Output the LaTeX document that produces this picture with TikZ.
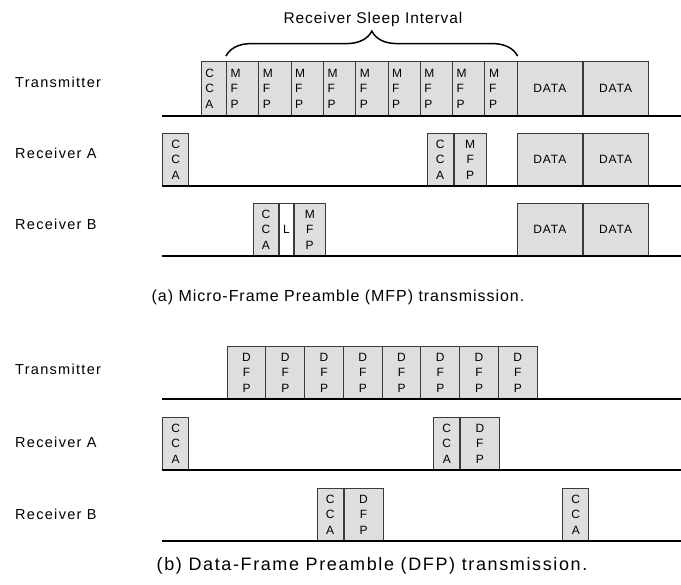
\documentclass[tikz,border=0pt]{standalone}
\usepackage{fontspec}
\setmainfont{Liberation Sans}
\newfontfamily\labelfont[LetterSpace=9]{Liberation Sans}
\newfontfamily\titlefont[LetterSpace=6]{Liberation Sans}
\newfontfamily\slotfont[LetterSpace=8]{Liberation Sans}
\usetikzlibrary{decorations.pathreplacing}

\definecolor{slotfill}{HTML}{DEDEDE}
\definecolor{slotedge}{HTML}{3A3A3A}

\tikzset{
  slot/.style={draw=slotedge, line width=0.9pt, fill=slotfill, inner sep=0pt,
    minimum height=52pt, anchor=south west, align=center,
    font=\slotfont\fontsize{12}{15.5}\selectfont},
  gapslot/.style={slot, fill=white},
  lefty/.style={align=left, text width=#1, inner xsep=4pt},
  timeline/.style={line width=2pt},
  rowlabel/.style={anchor=base west, inner sep=0pt,
    font=\labelfont\fontsize{14.5}{16}\selectfont},
  heading/.style={anchor=base, inner sep=0pt,
    font=\titlefont\fontsize{15.5}{17}\selectfont},
  capa/.style={anchor=base, inner sep=0pt,
    font=\titlefont\fontsize{16}{18}\selectfont},
  capb/.style={anchor=base, inner sep=0pt,
    font=\labelfont\fontsize{18}{20}\selectfont},
  sleepbrace/.style={decorate, decoration={brace, amplitude=25pt}, line width=1.5pt}
}

\begin{document}
\begin{tikzpicture}[x=1pt, y=-1pt]
    \useasboundingbox (0,0) rectangle (681,585);

    % (a) Micro-Frame Preamble
    \begin{scope}
        \node[rowlabel] (atx) at (15,88) {Transmitter};
        \node[rowlabel] (arxa) at (15,158.5) {Receiver A};
        \node[rowlabel] (arxb) at (15,229.5) {Receiver B};

        % transmitter: CCA, MFP train, data
        \node[slot, lefty=17pt, minimum width=25.3pt, minimum height=54pt] (atxcca) at (200.7,116) {C\\C\\A};
        \foreach \k in {1,...,9} {
            \node[slot, lefty=24pt, minimum width=32.3pt, minimum height=54pt] (atxmfp\k) at ({226+32.3*(\k-1)},116) {M\\F\\P};
        }
        \node[slot, minimum width=64.8pt, minimum height=54pt] (atxdata1) at (517,116) {DATA};
        \node[slot, minimum width=64.8pt, minimum height=54pt] (atxdata2) at (atxdata1.south east) {DATA};

        % sleep interval
        \draw[sleepbrace] ([yshift=5pt]atxmfp1.north west) -- ([yshift=5pt]atxmfp9.north east);
        \node[heading] (sleep) at (373,24) {Receiver Sleep Interval};

        % receiver A
        \node[slot, minimum width=26pt] (arxacca1) at (162.3,186) {C\\C\\A};
        \node[slot, minimum width=26pt] (arxacca2) at (426.7,186) {C\\C\\A};
        \node[slot, minimum width=32.3pt] (arxamfp) at (arxacca2.south east) {M\\F\\P};
        \node[slot, minimum width=64.8pt] (arxadata1) at (517,186) {DATA};
        \node[slot, minimum width=64.8pt] (arxadata2) at (arxadata1.south east) {DATA};

        % receiver B
        \node[slot, minimum width=25.6pt] (arxbcca) at (252.7,256) {C\\C\\A};
        \node[gapslot, minimum width=13.4pt] (arxblisten) at (arxbcca.south east) {L};
        \node[slot, minimum width=31.6pt] (arxbmfp) at (arxblisten.south east) {M\\F\\P};
        \node[slot, minimum width=64.8pt] (arxbdata1) at (517,256) {DATA};
        \node[slot, minimum width=64.8pt] (arxbdata2) at (arxbdata1.south east) {DATA};

        \foreach \y in {116,186,256} {
            \draw[timeline] (162,\y) -- (681,\y);
        }

        \node[capa] (capa) at (338,302) {(a) Micro-Frame Preamble (MFP) transmission.};
    \end{scope}

    % (b) Data-Frame Preamble
    \begin{scope}[yshift=-283pt]
        \node[rowlabel] (btx) at (15,91.5) {Transmitter};
        \node[rowlabel] (brxa) at (15,164.5) {Receiver A};
        \node[rowlabel] (brxb) at (15,236.5) {Receiver B};

        % transmitter: DFP train
        \foreach \k in {1,...,8} {
            \node[slot, minimum width=38.75pt] (btxdfp\k) at ({226.7+38.75*(\k-1)},116) {D\\F\\P};
        }

        % receiver A
        \node[slot, minimum width=26pt] (brxacca1) at (162.3,187) {C\\C\\A};
        \node[slot, minimum width=26pt] (brxacca2) at (433.3,187) {C\\C\\A};
        \node[slot, minimum width=38.4pt] (brxadfp) at (brxacca2.south east) {D\\F\\P};

        % receiver B
        \node[slot, minimum width=26pt] (brxbcca1) at (316.7,258) {C\\C\\A};
        \node[slot, minimum width=39pt] (brxbdfp) at (brxbcca1.south east) {D\\F\\P};
        \node[slot, minimum width=26pt] (brxbcca2) at (562.3,258) {C\\C\\A};

        \foreach \y in {116,187,258} {
            \draw[timeline] (162,\y) -- (681,\y);
        }

        \node[capb] (capb) at (372,288) {(b) Data-Frame Preamble (DFP) transmission.};
    \end{scope}
\end{tikzpicture}
\end{document}
